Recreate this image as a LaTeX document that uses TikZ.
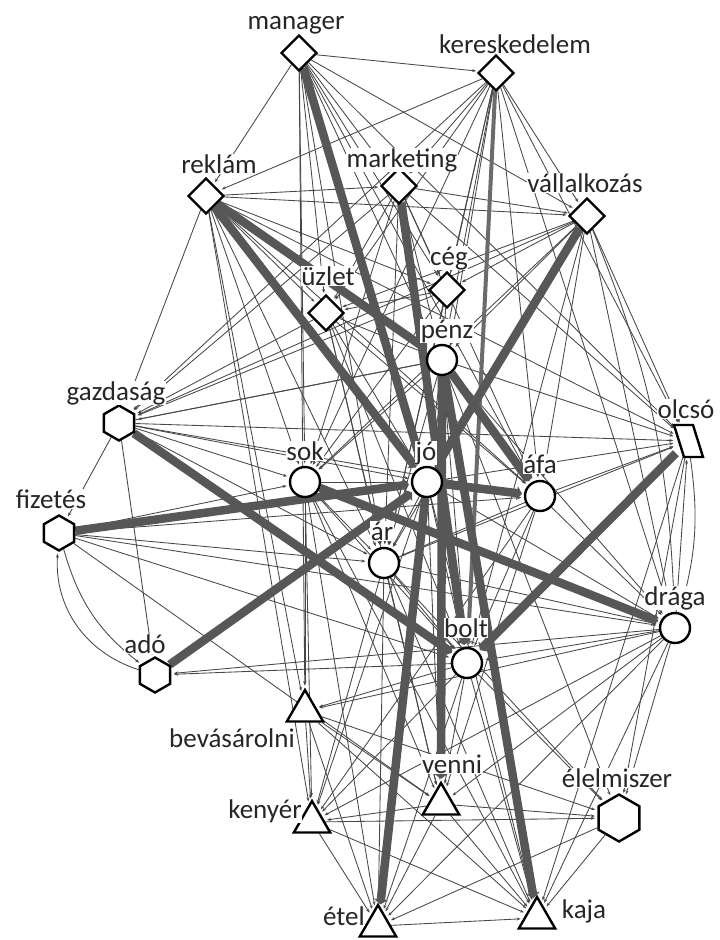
\documentclass[tikz,border=0pt]{standalone}
\usepackage{fontspec}
\setmainfont{Carlito}
\usetikzlibrary{shapes.geometric,arrows.meta}
\pgfdeclarelayer{paper}
\pgfdeclarelayer{background}
\pgfsetlayers{paper,background,main}
\newcommand\labfont{\fontsize{27}{30}\selectfont}
\tikzset{
  nd/.style={draw=black, line width=2.4pt, fill=white, inner sep=0pt},
  dia/.style={nd, diamond, minimum size=36pt},
  circ/.style={nd, circle, minimum size=30pt},
  hexa/.style={nd, regular polygon, regular polygon sides=6, shape border rotate=30, minimum size=35pt},
  bighexa/.style={hexa, minimum size=47pt},
  tri/.style={nd, regular polygon, regular polygon sides=3, minimum size=42pt},
  lab/.style={font=\labfont, text=black!85, fill=white, inner sep=0.6pt, anchor=base},
  e/.style={draw=black!72, line width=0.85pt, -{Stealth[length=4pt,width=3pt]}, shorten >=2.5pt},
  te/.style={draw=black!66, line width=8.5pt, -{Triangle[length=5pt,width=14pt]}, shorten >=2pt},
  me/.style={draw=black!58, line width=4pt, -{Triangle[length=4pt,width=8pt]}, shorten >=2pt},
}
\begin{document}
\begin{tikzpicture}[x=1pt,y=-1pt]
\begin{pgfonlayer}{paper}
\fill[white] (0,0) rectangle (720,940);
\end{pgfonlayer}
\useasboundingbox (0,0) rectangle (720,940);
% nodes
\node[dia]  (man) at (299,53) {};
\node[dia]  (ker) at (496,73) {};
\node[dia]  (rek) at (206,196) {};
\node[dia]  (mar) at (399,186) {};
\node[dia]  (val) at (587,216) {};
\node[dia]  (ceg) at (447,290) {};
\node[dia]  (uzl) at (326,313) {};
\node[circ] (pen) at (442,360) {};
\node[hexa] (gaz) at (119,423) {};
\node[minimum width=24pt, minimum height=32pt, inner sep=0pt] (olc) at (688,441) {};
\draw[line width=2.4pt, fill=white] (674,425) -- (693,425) -- (703,457) -- (684,457) -- cycle;
\node[circ] (sok) at (305,482) {};
\node[circ] (jo)  at (427,482) {};
\node[circ] (afa) at (540,496) {};
\node[hexa] (fiz) at (59,533) {};
\node[circ] (ar)  at (384,563) {};
\node[circ] (dra) at (675,628) {};
\node[circ] (bol) at (467,663) {};
\node[hexa] (ado) at (155,675) {};
\node[tri]  (bev) at (305,711) {};
\node[tri]  (ven) at (441,804) {};
\node[bighexa] (ele) at (619,818) {};
\node[tri]  (ken) at (312,822) {};
\node[tri]  (ete) at (378,926) {};
\node[tri]  (kaj) at (537,918) {};
% edges
\begin{pgfonlayer}{background}
\foreach \a/\b in {man/ker, man/val, man/rek, man/uzl, man/sok, man/bev, man/ar, man/pen, man/ceg, man/olc, man/afa, man/mar,
  ker/rek, ker/mar, ker/ceg, ker/uzl, ker/pen, ker/val, ker/jo, ker/ar, ker/dra, ker/olc, ker/sok, ker/gaz, ker/afa,
  rek/mar, rek/ceg, rek/val, rek/uzl, rek/sok, rek/ar, rek/bev, rek/ken, rek/olc, rek/gaz, rek/afa,
  mar/val, mar/ceg, mar/uzl, mar/pen, mar/gaz, mar/sok, mar/olc, mar/afa, mar/ar,
  val/ceg, val/uzl, val/pen, val/gaz, val/olc, val/dra, val/afa, val/sok, val/ar, val/bol,
  ceg/uzl, ceg/pen, ceg/gaz, ceg/sok, ceg/ar,
  uzl/pen, uzl/ar, uzl/afa, uzl/bol, uzl/ven, uzl/gaz, uzl/jo,
  pen/gaz, pen/olc, pen/sok, pen/dra, pen/ar, pen/bol, pen/ele, pen/jo,
  gaz/sok, gaz/jo, gaz/afa, gaz/olc, gaz/ado, gaz/ar, gaz/pen, gaz/fiz,
  fiz/ar, fiz/bol, fiz/dra, fiz/sok, fiz/ven, fiz/afa,
  sok/ar, sok/jo, sok/bol, sok/ven, sok/ken, sok/ete, sok/bev, sok/kaj,
  jo/ar, jo/bol, jo/dra, jo/ken, jo/kaj, jo/olc, jo/ven,
  afa/ar, afa/olc, afa/dra, afa/bol, afa/ken, afa/ven,
  ar/bol, ar/ken, ar/ete, ar/ven, ar/kaj, ar/dra, ar/olc, ar/ele,
  dra/olc, dra/ado, dra/bol, dra/ken, dra/ven, dra/ete, dra/kaj, dra/ele, dra/bev,
  bol/ken, bol/ven, bol/ete, bol/kaj, bol/ele, bol/bev, bol/ado,
  bev/ken, bev/ven, bev/ete, bev/kaj, bev/ele,
  ven/ken, ven/ete, ven/kaj, ven/ele,
  ken/ete, ken/kaj, ken/ele,
  ele/kaj, ele/ete, ete/kaj, olc/ele, olc/kaj}
  \draw[e] (\a) -- (\b);
\draw[e] (fiz) to[bend right=18] (ado);
\draw[e] (ado) to[bend left=38] (fiz);
\draw[e] (olc) to[bend left=12] (dra);
\draw[e] (val) to[bend left=10] (dra);
% thick edges
\draw[me] (ker) -- (bol);
\foreach \a/\b in {man/jo, rek/jo, rek/pen, mar/bol, val/jo, pen/afa, pen/kaj, pen/ven,
  gaz/bol, sok/dra, fiz/jo, ado/jo, olc/bol, jo/ete, jo/afa}
  \draw[te] (\a) -- (\b);
\end{pgfonlayer}
% labels
\node[lab] (l-man) at (296,29) {manager};
\node[lab] (l-ker) at (515,53) {kereskedelem};
\node[lab] (l-rek) at (219,173) {reklám};
\node[lab] (l-mar) at (402,167) {marketing};
\node[lab] (l-val) at (585,192) {vállalkozás};
\node[lab] (l-ceg) at (449,265) {cég};
\node[lab] (l-uzl) at (328,285) {üzlet};
\node[lab] (l-pen) at (447,338) {pénz};
\node[lab] (l-gaz) at (116,400) {gazdaság};
\node[lab] (l-olc) at (686,418) {olcsó};
\node[lab] (l-sok) at (305,460) {sok};
\node[lab] (l-jo)  at (426,460) {jó};
\node[lab] (l-afa) at (540,473) {áfa};
\node[lab] (l-fiz) at (51,508) {fizetés};
\node[lab] (l-ar)  at (382,540) {ár};
\node[lab] (l-dra) at (675,605) {drága};
\node[lab] (l-bol) at (466,637) {bolt};
\node[lab] (l-ado) at (145,653) {adó};
\node[lab] (l-bev) at (232,747) {bevásárolni};
\node[lab] (l-ven) at (452,773) {venni};
\node[lab] (l-ele) at (617,787) {élelmiszer};
\node[lab] (l-ken) at (265,818) {kenyér};
\node[lab] (l-ete) at (344,925) {étel};
\node[lab] (l-kaj) at (584,918) {kaja};
\end{tikzpicture}
\end{document}
